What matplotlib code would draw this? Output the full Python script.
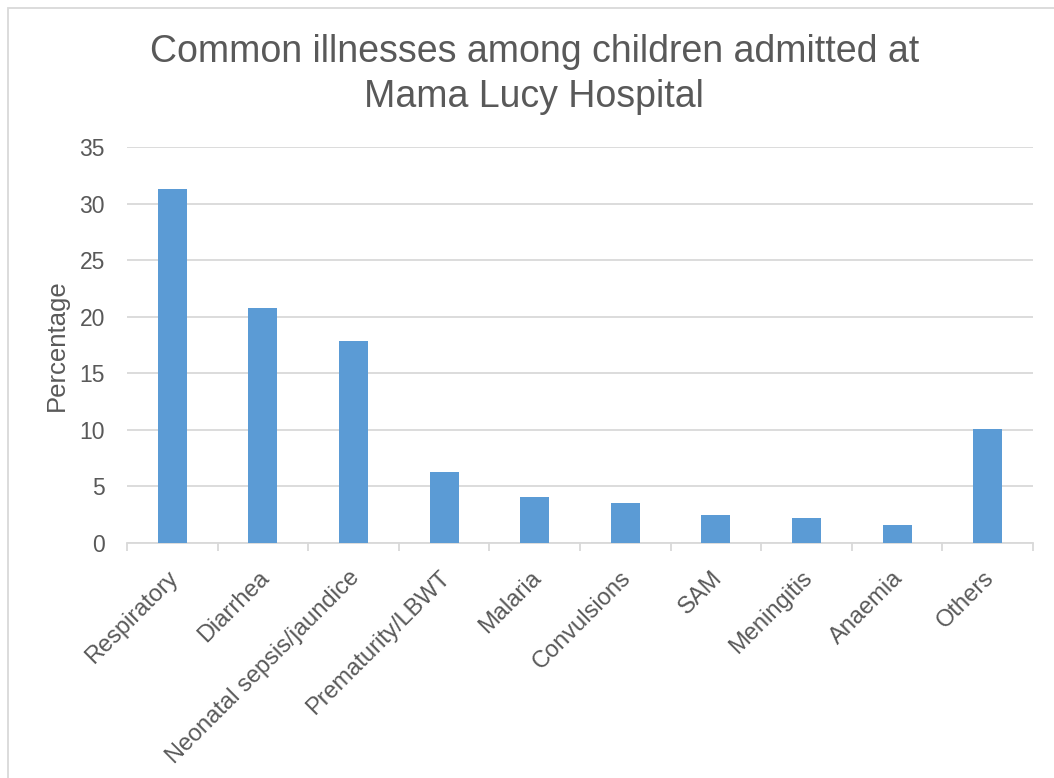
import numpy as np
import matplotlib.pyplot as plt
import matplotlib.transforms as mtransforms
from matplotlib.patches import Rectangle

plt.rcParams['font.family'] = ['Liberation Sans', 'DejaVu Sans']

categories = ["Respiratory", "Diarrhea", "Neonatal sepsis/jaundice", "Prematurity/LBWT",
              "Malaria", "Convulsions", "SAM", "Meningitis", "Anaemia", "Others"]
percentages = [31.3, 20.8, 17.9, 6.3, 4.1, 3.5, 2.5, 2.2, 1.6, 10.1]
y_ticks = [0, 5, 10, 15, 20, 25, 30, 35]

text_col = '#595959'
grid_col = '#d9d9d9'

fig = plt.figure(figsize=(10.54, 7.78), dpi=100)
ax = fig.add_axes([0.1205, 0.302, 0.8595, 0.509])

x = np.arange(len(categories))
ax.bar(x, percentages, width=0.32, color='#5b9bd5', zorder=3)

ax.set_xlim(-0.5, len(categories) - 0.5)
ax.set_ylim(0, 35)
ax.set_yticks(y_ticks)
ax.yaxis.grid(True, color=grid_col, linewidth=1.3, zorder=0)
ax.tick_params(axis='y', length=0, labelsize=16.5, labelcolor=text_col, pad=16)

ax.set_xticks(x)
ax.set_xticklabels(categories, rotation=45, ha='right', rotation_mode='anchor',
                   fontsize=17, color=text_col)
ax.tick_params(axis='x', which='major', length=0, pad=15)
ax.set_xticks(np.arange(-0.5, len(categories)), minor=True)
ax.tick_params(axis='x', which='minor', length=6, color=grid_col, width=1.3)

# nudge the rotated labels a bit down-left
shift = mtransforms.ScaledTranslation(-5 / 100, -3 / 100, fig.dpi_scale_trans)
for lbl in ax.get_xticklabels():
    lbl.set_transform(lbl.get_transform() + shift)

for s in ['top', 'right', 'left']:
    ax.spines[s].set_visible(False)
ax.spines['bottom'].set_color(grid_col)
ax.spines['bottom'].set_linewidth(1.3)

ax.set_ylabel("Percentage", fontsize=18.5, color=text_col)
ax.yaxis.set_label_coords(-0.064, 0.5)

fig.text(0.507, 0.904, "Common illnesses among children admitted at\nMama Lucy Hospital",
         ha='center', va='center', fontsize=27, color=text_col, linespacing=1.3)

# chart border
fig.patches.append(Rectangle((8 / 1054, -0.01), 1.02, 1 - 8 / 778 + 0.01,
                             transform=fig.transFigure, fill=False,
                             edgecolor=grid_col, linewidth=1.3))

fig.savefig('out.png', dpi=100)
